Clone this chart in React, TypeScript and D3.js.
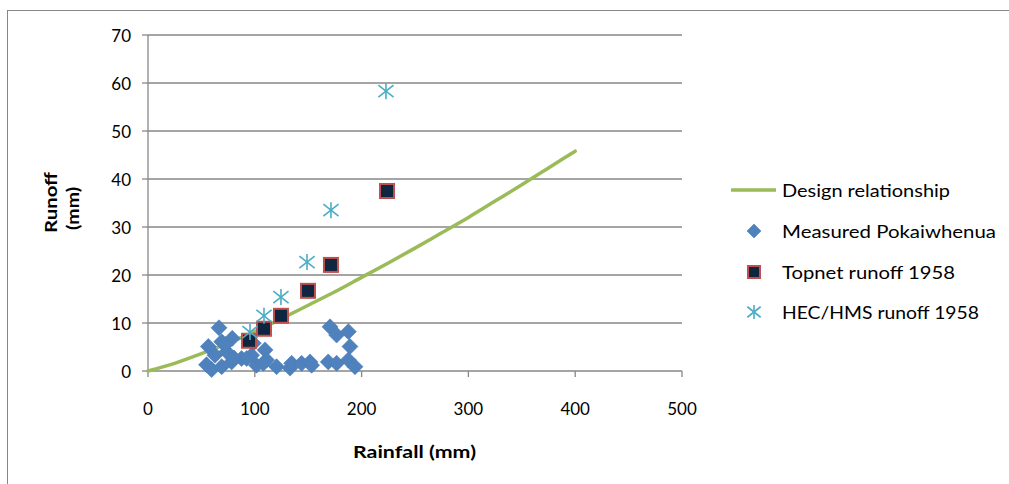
import React from "react";
import * as d3 from "d3";

const designRainfall = [0, 25, 50, 75, 100, 125, 150, 175, 200, 225, 250, 275, 300, 325, 350, 375, 400];
const designRunoff = [0, 1.6, 3.6, 5.8, 8.2, 10.9, 13.7, 16.5, 19.5, 22.5, 25.6, 28.8, 32.0, 35.4, 38.8, 42.3, 45.8];

const measuredRainfall = [66.5, 56.5, 69, 78.9, 62.7, 54.8, 59.6, 73.6, 78.3, 87.6, 97, 101.6, 69, 98.6, 109.6, 111, 108, 120.4, 133, 134.5, 143.8, 151.7, 153.2, 170.4, 176.6, 187.6, 189.1, 168.8, 176.6, 187.6, 193.8, 80.5, 92.4, 72.5];
const measuredRunoff = [9.0, 5.1, 6.1, 6.8, 3.3, 1.3, 0.3, 4.0, 1.9, 2.6, 3.3, 1.2, 0.9, 5.8, 4.4, 2.3, 1.6, 0.9, 0.6, 1.6, 1.6, 1.9, 1.2, 9.2, 7.5, 8.2, 5.1, 1.9, 1.6, 2.3, 0.9, 2.7, 2.6, 5.5];

const topnetRainfall = [94.6, 108.6, 124.5, 149.8, 171.3, 223.8];
const topnetRunoff = [6.3, 8.8, 11.5, 16.7, 22.1, 37.5];

const hecRainfall = [95.5, 108.6, 124.5, 148.9, 171.3, 222.8];
const hecRunoff = [8.1, 11.5, 15.4, 22.7, 33.5, 58.3];

const xTicks = [0, 100, 200, 300, 400, 500];
const yTicks = [0, 10, 20, 30, 40, 50, 60, 70];

const legendLabels = ["Design relationship", "Measured Pokaiwhenua", "Topnet runoff 1958", "HEC/HMS runoff 1958"];

const FONT = "Lato, 'Open Sans', sans-serif";
const GRID = "#878787";
const BLUE = "#4A7EBB";
const GREEN = "#9BBB59";
const NAVY = "#10253F";
const RED = "#C0504D";
const CYAN = "#4BACC6";

function Diamond({ cx, cy, r }: { cx: number; cy: number; r: number }) {
  return (
    <path
      d={`M${cx},${cy - r}L${cx + r},${cy}L${cx},${cy + r}L${cx - r},${cy}Z`}
      fill="#4F81BD"
      stroke={BLUE}
      strokeWidth={0.6}
    />
  );
}

function Square({ cx, cy, s }: { cx: number; cy: number; s: number }) {
  return <rect x={cx - s / 2} y={cy - s / 2} width={s} height={s} fill={NAVY} stroke={RED} strokeWidth={2} />;
}

function Star({ cx, cy, r }: { cx: number; cy: number; r: number }) {
  const dx = r * 0.95;
  const dy = r * 0.75;
  return (
    <g stroke={CYAN} strokeWidth={1.6} fill="none">
      <line x1={cx} y1={cy - r} x2={cx} y2={cy + r} />
      <line x1={cx - dx} y1={cy - dy} x2={cx + dx} y2={cy + dy} />
      <line x1={cx - dx} y1={cy + dy} x2={cx + dx} y2={cy - dy} />
    </g>
  );
}

export default function App() {
  const x = d3.scaleLinear().domain([0, 500]).range([148, 682]);
  const y = d3.scaleLinear().domain([0, 70]).range([371, 35]);

  const line = d3
    .line<number>()
    .x((_, i) => x(designRainfall[i]))
    .y((d) => y(d))
    .curve(d3.curveMonotoneX);

  const legendX = 731;
  const legendRows = [190, 231, 272, 312];
  const legendWidths = [168, 214, 173, 197];

  return (
    <svg
      width={1009}
      height={484}
      style={{ position: "absolute", left: 0, top: 0, background: "#fff" }}
      fontFamily={FONT}
    >
      <rect x={7.5} y={10.5} width={1100} height={600} fill="#fff" stroke={GRID} strokeWidth={1} />

      {/* gridlines */}
      {yTicks.filter((t) => t > 0).map((t) => (
        <line key={`g${t}`} x1={x(0)} x2={x(500)} y1={y(t)} y2={y(t)} stroke={GRID} strokeWidth={1.3} />
      ))}

      {/* axes */}
      <line x1={x(0)} x2={x(0)} y1={y(0)} y2={y(70)} stroke={GRID} strokeWidth={1.3} />
      <line x1={x(0)} x2={x(500)} y1={y(0)} y2={y(0)} stroke={GRID} strokeWidth={1.3} />
      {yTicks.map((t) => (
        <line key={`yt${t}`} x1={x(0) - 6} x2={x(0)} y1={y(t)} y2={y(t)} stroke={GRID} strokeWidth={1.3} />
      ))}
      {xTicks.map((t) => (
        <line key={`xt${t}`} x1={x(t)} x2={x(t)} y1={y(0)} y2={y(0) + 6} stroke={GRID} strokeWidth={1.3} />
      ))}

      {/* tick labels */}
      {yTicks.map((t) => (
        <text key={`yl${t}`} x={131} y={y(t)} textAnchor="end" dominantBaseline="central" fontSize={17} fill="#000">
          {t}
        </text>
      ))}
      {xTicks.map((t) => (
        <text key={`xl${t}`} x={x(t)} y={408} textAnchor="middle" dominantBaseline="central" fontSize={17} fill="#000">
          {t}
        </text>
      ))}

      {/* axis titles */}
      <text
        x={353}
        y={451}
        dominantBaseline="central"
        fontSize={17}
        fontWeight="bold"
        fill="#000"
        textLength={123}
        lengthAdjust="spacingAndGlyphs"
      >
        Rainfall (mm)
      </text>
      <g transform="translate(50,233) rotate(-90)">
        <text
          x={0}
          y={0}
          dominantBaseline="central"
          fontSize={17}
          fontWeight="bold"
          fill="#000"
          textLength={61}
          lengthAdjust="spacingAndGlyphs"
        >
          Runoff
        </text>
      </g>
      <g transform="translate(72,230) rotate(-90)">
        <text
          x={0}
          y={0}
          dominantBaseline="central"
          fontSize={17}
          fontWeight="bold"
          fill="#000"
          textLength={43}
          lengthAdjust="spacingAndGlyphs"
        >
          (mm)
        </text>
      </g>

      {/* design curve */}
      <path d={line(designRunoff) || ""} fill="none" stroke={GREEN} strokeWidth={3.5} strokeLinecap="round" />

      {/* measured */}
      {measuredRainfall.map((r, i) => (
        <Diamond key={`m${i}`} cx={x(r)} cy={y(measuredRunoff[i])} r={8} />
      ))}

      {/* topnet */}
      {topnetRainfall.map((r, i) => (
        <Square key={`t${i}`} cx={x(r)} cy={y(topnetRunoff[i])} s={14} />
      ))}

      {/* hec */}
      {hecRainfall.map((r, i) => (
        <Star key={`h${i}`} cx={x(r)} cy={y(hecRunoff[i])} r={8} />
      ))}

      {/* legend */}
      <line x1={legendX} x2={legendX + 45} y1={legendRows[0]} y2={legendRows[0]} stroke={GREEN} strokeWidth={3.5} />
      <Diamond cx={754} cy={legendRows[1]} r={7} />
      <Square cx={754} cy={legendRows[2]} s={12} />
      <Star cx={754} cy={legendRows[3]} r={7} />
      {legendLabels.map((lab, i) => (
        <text
          key={lab}
          x={782}
          y={legendRows[i]}
          dominantBaseline="central"
          fontSize={18}
          fill="#000"
          textLength={legendWidths[i]}
          lengthAdjust="spacingAndGlyphs"
        >
          {lab}
        </text>
      ))}
    </svg>
  );
}
